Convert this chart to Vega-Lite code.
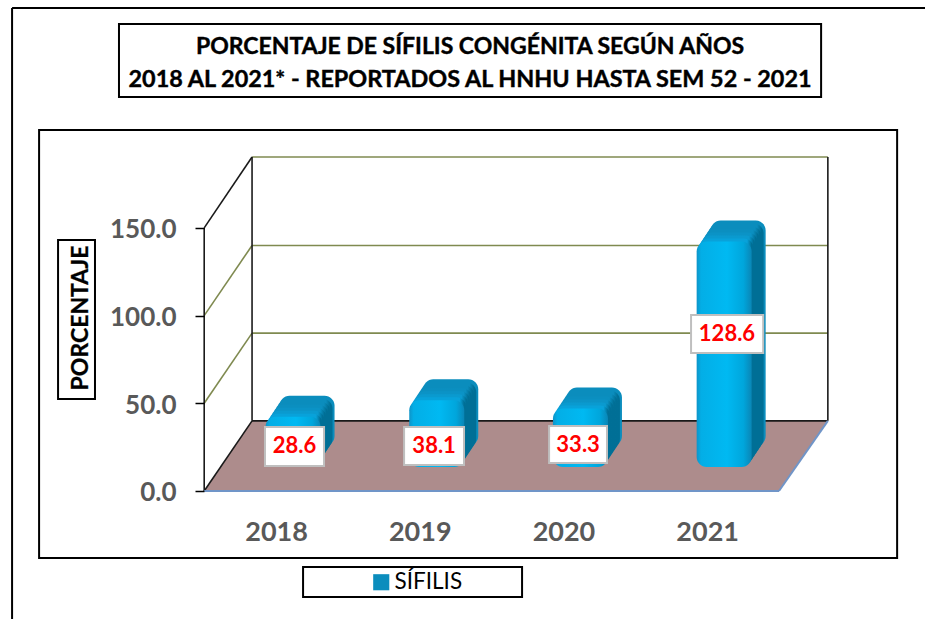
{
"$schema":"https://vega.github.io/schema/vega-lite/v6.json",
"width":925,"height":619,"padding":0,"autosize":{"type":"none"},"background":"white",
"config":{"view":{"stroke":null},"font":"Lato"},
"datasets":{
"barras":[{"x":2018,"y":28.6,"serie":"SÍFILIS"},{"x":2019,"y":38.1,"serie":"SÍFILIS"},{"x":2020,"y":33.3,"serie":"SÍFILIS"},{"x":2021,"y":128.6,"serie":"SÍFILIS"}]
},
"data":{"name":"barras"},
"encoding":{
"x":{"field":"x","type":"quantitative","scale":{"domain":[2016.079,2022.516],"nice":false,"zero":false,"padding":0},
"axis":{"orient":"bottom","offset":-128,"zindex":1,"values":[2018,2019,2020,2021],"format":"d","title":null,"grid":false,"domain":false,"ticks":false,"labelPadding":28,"labelFont":"Lato","labelFontWeight":"bold","labelFontSize":27,"labelColor":"#595959"}},
"y":{"field":"y","type":"quantitative","scale":{"domain":[-72.98,279.93],"nice":false,"zero":false,"padding":0},
"axis":{"orient":"left","offset":-204,"zindex":1,"values":[0,50,100,150],"format":".1f","title":null,"grid":false,"domain":false,"ticks":true,"tickSize":9,"tickColor":"#000000","tickWidth":1.5,"labelPadding":19,"labelOffset":2,"labelFont":"Lato","labelFontWeight":"bold","labelFontSize":26,"labelColor":"#595959"}}
},
"layer":[
{"data":{"values":[{"x":2016.907,"x2":2021.793,"y":224.6,"y2":266.3},{"x":2016.351,"x2":2022.322,"y":-38.2,"y2":205.8},{"x":2016.483,"x2":2016.74,"y":52.5,"y2":143.1},{"x":2018.188,"x2":2019.712,"y":-60.4,"y2":-43.3}]},
"mark":{"type":"rect","fill":"white","stroke":"#000000","strokeWidth":2},
"encoding":{"x2":{"field":"x2"},"y2":{"field":"y2"}}},
{"data":{"values":[{"x":2016.163,"y":275.4,"x2":2022.516,"y2":275.4},{"x":2016.163,"y":275.4,"x2":2016.163,"y2":-72.98}]},
"mark":{"type":"rule","stroke":"#000000","strokeWidth":2},
"encoding":{"x2":{"field":"x2"},"y2":{"field":"y2"}}},
{"data":{"values":[{"x":2017.5,"y":0,"y2":0},{"x":2017.833,"y":40,"y2":0},{"x":2021.5,"y":40,"y2":0},{"x":2021.84,"y":40,"y2":40}]},
"mark":{"type":"area","orient":"vertical","fill":"#ad8c8c","opacity":1},
"encoding":{"y2":{"field":"y2"}}},
{"data":{"values":[{"x":2017.5,"y":50,"x2":2017.833,"y2":90},{"x":2017.833,"y":90,"x2":2021.84,"y2":90},{"x":2017.5,"y":100,"x2":2017.833,"y2":140},{"x":2017.833,"y":140,"x2":2021.84,"y2":140},{"x":2017.833,"y":190.4,"x2":2021.84,"y2":190.4}]},
"mark":{"type":"rule","stroke":"#7f8a50","strokeWidth":1.6},
"encoding":{"x2":{"field":"x2"},"y2":{"field":"y2"}}},
{"data":{"values":[{"x":2017.5,"y":0,"x2":2017.5,"y2":150},{"x":2017.5,"y":150,"x2":2017.833,"y2":190.4},{"x":2017.833,"y":190.4,"x2":2017.833,"y2":40},{"x":2021.84,"y":190.4,"x2":2021.84,"y2":40},{"x":2017.833,"y":40,"x2":2021.84,"y2":40},{"x":2017.5,"y":0,"x2":2017.833,"y2":40}]},
"mark":{"type":"rule","stroke":"#1a1a1a","strokeWidth":1.6},
"encoding":{"x2":{"field":"x2"},"y2":{"field":"y2"}}},
{"data":{"values":[{"x":2017.5,"y":0,"x2":2021.5,"y2":0},{"x":2021.5,"y":0,"x2":2021.84,"y2":40}]},
"mark":{"type":"rule","stroke":"#7095c8","strokeWidth":2},
"encoding":{"x2":{"field":"x2"},"y2":{"field":"y2"}}},
{"mark":{"type":"bar","orient":"vertical","width":55,"cornerRadius":10,"xOffset":31,"yOffset":-45,"y2Offset":-45},
"encoding":{"y2":{"datum":0},"color":{"field":"serie","type":"nominal","scale":{"domain":["SÍFILIS"],"range":["#0b8dbd"]},
"legend":{"orient":"none","legendX":368,"legendY":569,"title":null,"symbolType":"square","symbolSize":260,"symbolStrokeWidth":0,"symbolOpacity":1,"labelFont":"Lato","labelFontSize":22.5,"labelColor":"#000000","labelOffset":2,"rowPadding":0,"padding":2}}}},
{"mark":{"type":"bar","orient":"vertical","width":55,"cornerRadius":10,"xOffset":29,"yOffset":-42,"y2Offset":-42,"fill":{"gradient":"linear","x1":0,"x2":1,"y1":0,"y2":0,"stops":[{"offset":0,"color":"#0b8dbd"},{"offset":0.88,"color":"#0b8dbd"},{"offset":0.96,"color":"#006f96"},{"offset":1,"color":"#006f96"}]}},"encoding":{"y2":{"datum":0}}},
{"mark":{"type":"bar","orient":"vertical","width":55,"cornerRadius":10,"xOffset":27,"yOffset":-39,"y2Offset":-39,"fill":{"gradient":"linear","x1":0,"x2":1,"y1":0,"y2":0,"stops":[{"offset":0,"color":"#0b8dbd"},{"offset":0.88,"color":"#0b8dbd"},{"offset":0.96,"color":"#006f96"},{"offset":1,"color":"#006f96"}]}},"encoding":{"y2":{"datum":0}}},
{"mark":{"type":"bar","orient":"vertical","width":55,"cornerRadius":10,"xOffset":25,"yOffset":-36,"y2Offset":-36,"fill":{"gradient":"linear","x1":0,"x2":1,"y1":0,"y2":0,"stops":[{"offset":0,"color":"#0b8fc0"},{"offset":0.88,"color":"#0b8fc0"},{"offset":0.96,"color":"#006f96"},{"offset":1,"color":"#006f96"}]}},"encoding":{"y2":{"datum":0}}},
{"mark":{"type":"bar","orient":"vertical","width":55,"cornerRadius":10,"xOffset":23,"yOffset":-33,"y2Offset":-33,"fill":{"gradient":"linear","x1":0,"x2":1,"y1":0,"y2":0,"stops":[{"offset":0,"color":"#0b93c6"},{"offset":0.88,"color":"#0b93c6"},{"offset":0.96,"color":"#006f96"},{"offset":1,"color":"#006f96"}]}},"encoding":{"y2":{"datum":0}}},
{"mark":{"type":"bar","orient":"vertical","width":55,"cornerRadius":10,"xOffset":21,"yOffset":-30,"y2Offset":-30,"fill":{"gradient":"linear","x1":0,"x2":1,"y1":0,"y2":0,"stops":[{"offset":0,"color":"#0a9acf"},{"offset":0.88,"color":"#0a9acf"},{"offset":0.96,"color":"#006f96"},{"offset":1,"color":"#006f96"}]}},"encoding":{"y2":{"datum":0}}},
{"mark":{"type":"bar","orient":"vertical","width":55,"cornerRadius":10,"xOffset":19,"yOffset":-27,"y2Offset":-27,"fill":{"gradient":"linear","x1":0,"x2":1,"y1":0,"y2":0,"stops":[{"offset":0,"color":"#08a2da"},{"offset":0.88,"color":"#08a2da"},{"offset":0.96,"color":"#006f96"},{"offset":1,"color":"#006f96"}]}},"encoding":{"y2":{"datum":0}}},
{"mark":{"type":"bar","orient":"vertical","width":55,"cornerRadius":10,"xOffset":17,"yOffset":-24,"y2Offset":-24,"fill":{"gradient":"linear","x1":0,"x2":1,"y1":0,"y2":0,"stops":[{"offset":0,"color":"#0e94c8"},{"offset":0.08,"color":"#03aee6"},{"offset":0.55,"color":"#00b9f2"},{"offset":0.85,"color":"#00a6dc"},{"offset":1,"color":"#0a86b6"}]}},"encoding":{"y2":{"datum":0}}},
{"data":{"values":[{"x":2017.923,"x2":2018.334,"y":14.25,"y2":36.5},{"x":2018.891,"x2":2019.308,"y":14.8,"y2":36.5},{"x":2019.9,"x2":2020.303,"y":16,"y2":37},{"x":2020.888,"x2":2021.39,"y":78.7,"y2":100.3}]},
"mark":{"type":"rect","fill":"white","stroke":"#bfbfbf","strokeWidth":2},
"encoding":{"x2":{"field":"x2"},"y2":{"field":"y2"}}},
{"data":{"values":[{"x":2018.129,"y":25.4,"t":"28.6"},{"x":2019.1,"y":25.7,"t":"38.1"},{"x":2020.102,"y":26.2,"t":"33.3"},{"x":2021.138,"y":89.5,"t":"128.6"}]},
"mark":{"type":"text","font":"Lato","fontWeight":"bold","fontSize":22,"fill":"#ff0000","align":"center","baseline":"middle"},
"encoding":{"text":{"field":"t"}}},
{"data":{"values":[{"x":2019.35,"y":253.1,"t":"PORCENTAJE DE SÍFILIS CONGÉNITA SEGÚN AÑOS"}]},
"mark":{"type":"text","font":"Lato","fontWeight":"bold","fontSize":23,"fill":"#000000","stroke":"#000000","strokeWidth":0.4,"align":"center","baseline":"middle"},
"encoding":{"text":{"field":"t"}}},
{"data":{"values":[{"x":2019.35,"y":234.3,"t":"2018 AL 2021* - REPORTADOS AL HNHU HASTA SEM 52 - 2021"}]},
"mark":{"type":"text","font":"Lato","fontWeight":"bold","fontSize":23.4,"fill":"#000000","stroke":"#000000","strokeWidth":0.4,"align":"center","baseline":"middle"},
"encoding":{"text":{"field":"t"}}},
{"data":{"values":[{"x":2016.64,"y":98.6,"t":"PORCENTAJE"}]},
"mark":{"type":"text","font":"Lato","fontWeight":"bold","fontSize":23,"fill":"#000000","stroke":"#000000","strokeWidth":0.3,"align":"center","baseline":"middle","angle":270},
"encoding":{"text":{"field":"t"}}}
]
}
